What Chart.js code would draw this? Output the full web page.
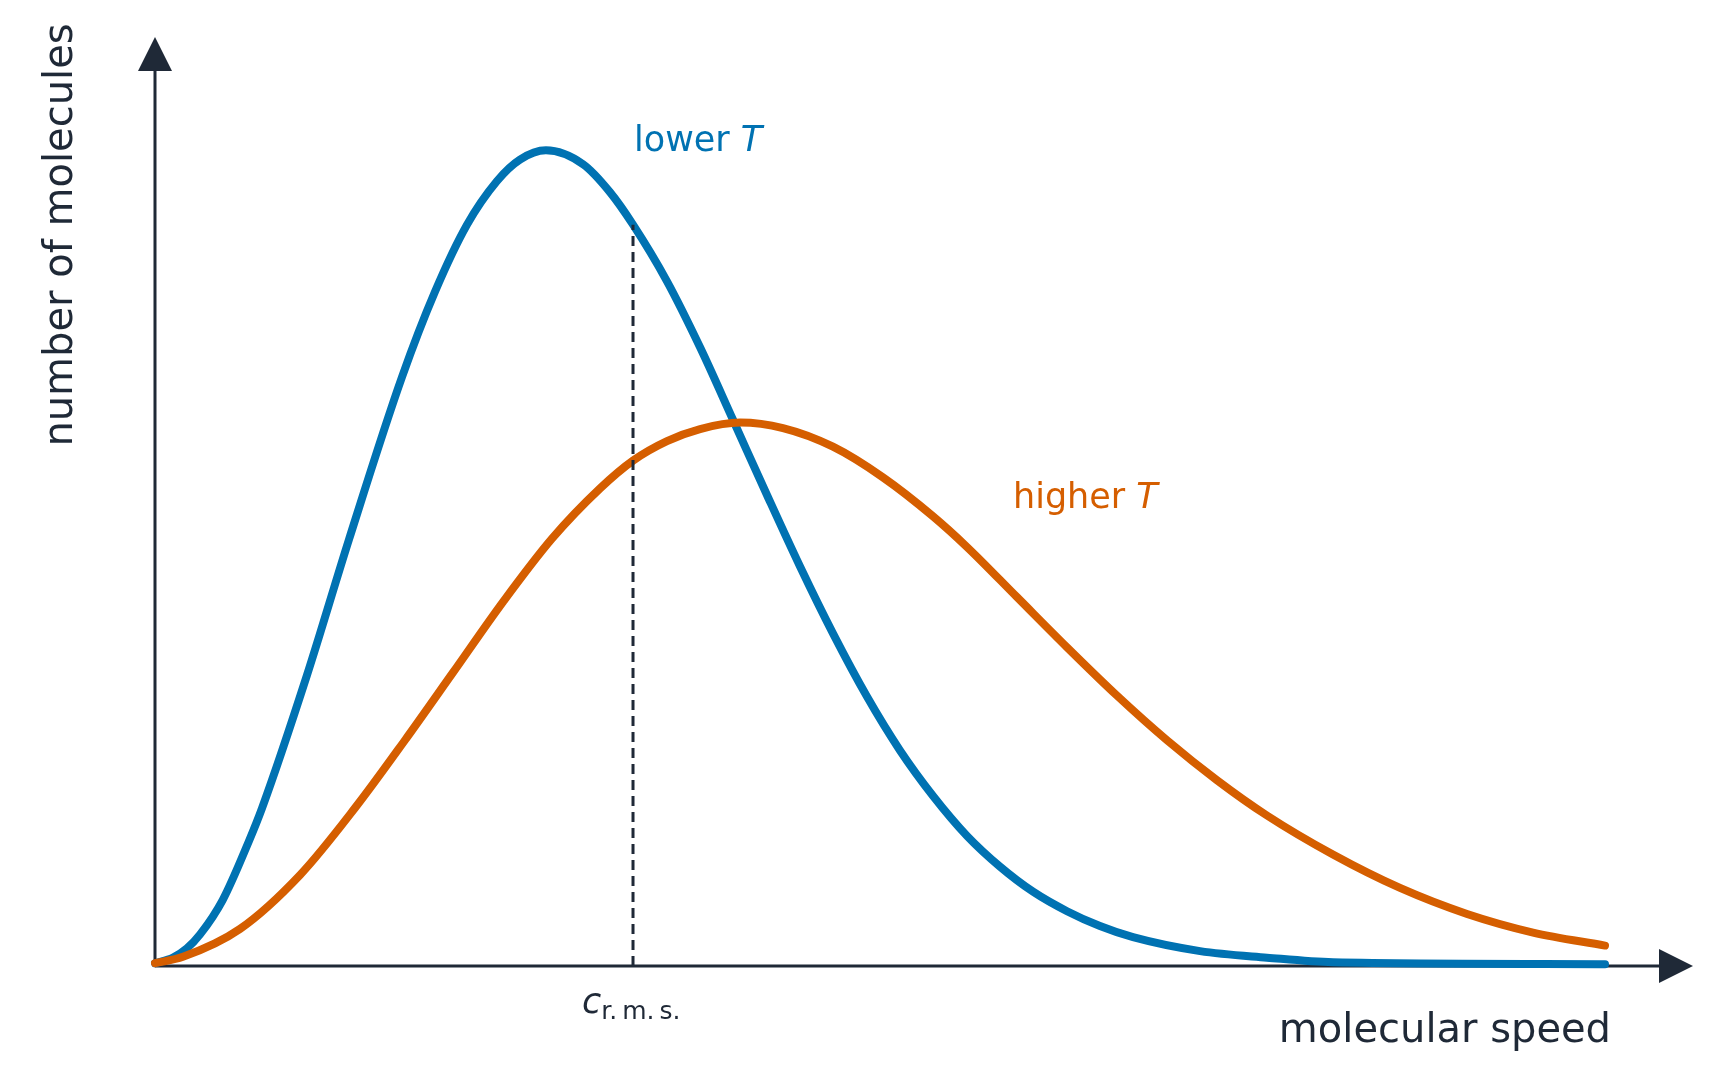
<!DOCTYPE html>
<html>
<head>
<meta charset="utf-8">
<script src="https://cdn.jsdelivr.net/npm/chart.js@4/dist/chart.umd.min.js"></script>
<style>
  html, body { margin: 0; padding: 0; background: #fff; }
  canvas { display: block; }
</style>
</head>
<body>
<canvas id="speedChart" width="1730" height="1091"></canvas>
<script>
// molecular speed (arbitrary units, 0..100 along the axis)
const lowerSpeed = [0, 1.17, 2.08, 2.93, 4.4, 6.07, 6.96, 9.88, 12.61, 16.06, 18.21, 20.29, 22.24, 23.73, 25.42, 27.83, 29.58, 31.08, 33.29, 35.44, 37.58, 39.79, 41.94, 44.08, 46.29, 48.44, 50.59, 52.8, 54.94, 57.09, 59.3, 61.44, 63.59, 67.95, 72.3, 76.59, 94.28];
const lowerCount = [0.3, 0.9, 1.9, 3.4, 7.1, 13.3, 17.0, 31.3, 45.9, 63.4, 72.6, 79.8, 84.5, 86.8, 87.8, 86.3, 83.3, 79.8, 73.7, 66.6, 58.8, 50.7, 43.0, 35.8, 29.0, 23.2, 18.3, 14.0, 10.7, 8.0, 5.9, 4.3, 3.1, 1.6, 0.9, 0.4, 0.2];

const higherSpeed = [0, 1.82, 5.53, 9.43, 13.0, 16.25, 19.38, 22.63, 25.81, 28.93, 31.08, 33.29, 35.44, 38.04, 40.83, 44.08, 47.33, 50.59, 52.8, 56.05, 59.3, 62.55, 65.8, 69.05, 72.3, 76.59, 80.95, 85.31, 89.6, 94.28];
const higherCount = [0.3, 1.0, 4.0, 9.8, 17.0, 24.3, 31.6, 39.2, 46.0, 51.4, 54.4, 56.5, 57.8, 58.5, 57.9, 55.9, 52.6, 48.4, 45.1, 39.7, 34.3, 29.1, 24.3, 20.0, 16.2, 12.0, 8.4, 5.6, 3.6, 2.2];

// r.m.s. speed marker (dashed drop line up to the lower T curve)
const rmsSpeed = [31.08, 31.08];
const rmsCount = [0, 79.8];

const BLUE = "#0072b2";
const ORANGE = "#d55e00";
const INK = "#1f2937";
const FONT = "'DejaVu Sans', sans-serif";

const toPoints = (xs, ys) => xs.map((x, i) => ({ x: x, y: ys[i] }));

const decor = {
  id: "decor",
  beforeDatasetsDraw(chart) {
    const { ctx, chartArea, scales } = chart;
    const x0 = scales.x.getPixelForValue(0);
    const y0 = scales.y.getPixelForValue(0);
    ctx.save();
    ctx.strokeStyle = INK;
    ctx.fillStyle = INK;
    ctx.lineWidth = 3;
    // axes
    ctx.beginPath();
    ctx.moveTo(x0, y0);
    ctx.lineTo(x0, chartArea.top + 30);
    ctx.moveTo(x0, y0);
    ctx.lineTo(chartArea.right - 30, y0);
    ctx.stroke();
    // arrow heads
    ctx.beginPath();
    ctx.moveTo(x0, chartArea.top);
    ctx.lineTo(x0 - 17, chartArea.top + 34);
    ctx.lineTo(x0 + 17, chartArea.top + 34);
    ctx.closePath();
    ctx.fill();
    ctx.beginPath();
    ctx.moveTo(chartArea.right, y0);
    ctx.lineTo(chartArea.right - 34, y0 - 17);
    ctx.lineTo(chartArea.right - 34, y0 + 17);
    ctx.closePath();
    ctx.fill();
    ctx.restore();
  },
  afterDatasetsDraw(chart) {
    const { ctx, scales } = chart;
    const y0 = scales.y.getPixelForValue(0);
    ctx.save();
    ctx.textBaseline = "alphabetic";
    ctx.textAlign = "left";

    // curve labels
    const label = (txt, x, y, color) => {
      ctx.fillStyle = color;
      ctx.font = "35px " + FONT;
      ctx.fillText(txt, x, y);
      const w = ctx.measureText(txt).width;
      ctx.font = "italic 35px " + FONT;
      ctx.fillText("T", x + w, y);
    };
    label("lower ", 634, 151, BLUE);
    label("higher ", 1013, 508, ORANGE);

    // c r.m.s.
    ctx.fillStyle = INK;
    const cx = scales.x.getPixelForValue(rmsSpeed[0]) - 51;
    ctx.font = "italic 35px " + FONT;
    ctx.fillText("c", cx, y0 + 47);
    const cw = ctx.measureText("c").width;
    ctx.font = "25px " + FONT;
    ctx.fillText("r.\u2009m.\u2009s.", cx + cw, y0 + 53);

    // axis titles
    ctx.font = "40px " + FONT;
    ctx.textAlign = "right";
    ctx.fillText("molecular speed", 1611, 1042);
    ctx.translate(72, 235);
    ctx.rotate(-Math.PI / 2);
    ctx.textAlign = "center";
    ctx.fillText("number of molecules", 0, 0);
    ctx.restore();
  }
};

new Chart(document.getElementById("speedChart"), {
  type: "line",
  data: {
    datasets: [
      {
        label: "r.m.s.",
        data: toPoints(rmsSpeed, rmsCount),
        borderColor: INK,
        borderWidth: 3,
        borderDash: [10, 6],
        pointRadius: 0,
        clip: false
      },
      {
        label: "higher T",
        data: toPoints(higherSpeed, higherCount),
        borderColor: ORANGE,
        borderWidth: 8,
        borderCapStyle: "round",
        cubicInterpolationMode: "monotone",
        pointRadius: 0,
        clip: false
      },
      {
        label: "lower T",
        data: toPoints(lowerSpeed, lowerCount),
        borderColor: BLUE,
        borderWidth: 8,
        borderCapStyle: "round",
        cubicInterpolationMode: "monotone",
        pointRadius: 0,
        clip: false
      }
    ]
  },
  options: {
    responsive: false,
    animation: false,
    events: [],
    layout: { padding: { left: 155, top: 37, right: 37, bottom: 125 } },
    plugins: { legend: { display: false }, tooltip: { enabled: false } },
    scales: {
      x: { type: "linear", min: 0, max: 100, display: false },
      y: { type: "linear", min: 0, max: 100, display: false }
    }
  },
  plugins: [decor]
});
</script>
</body>
</html>
